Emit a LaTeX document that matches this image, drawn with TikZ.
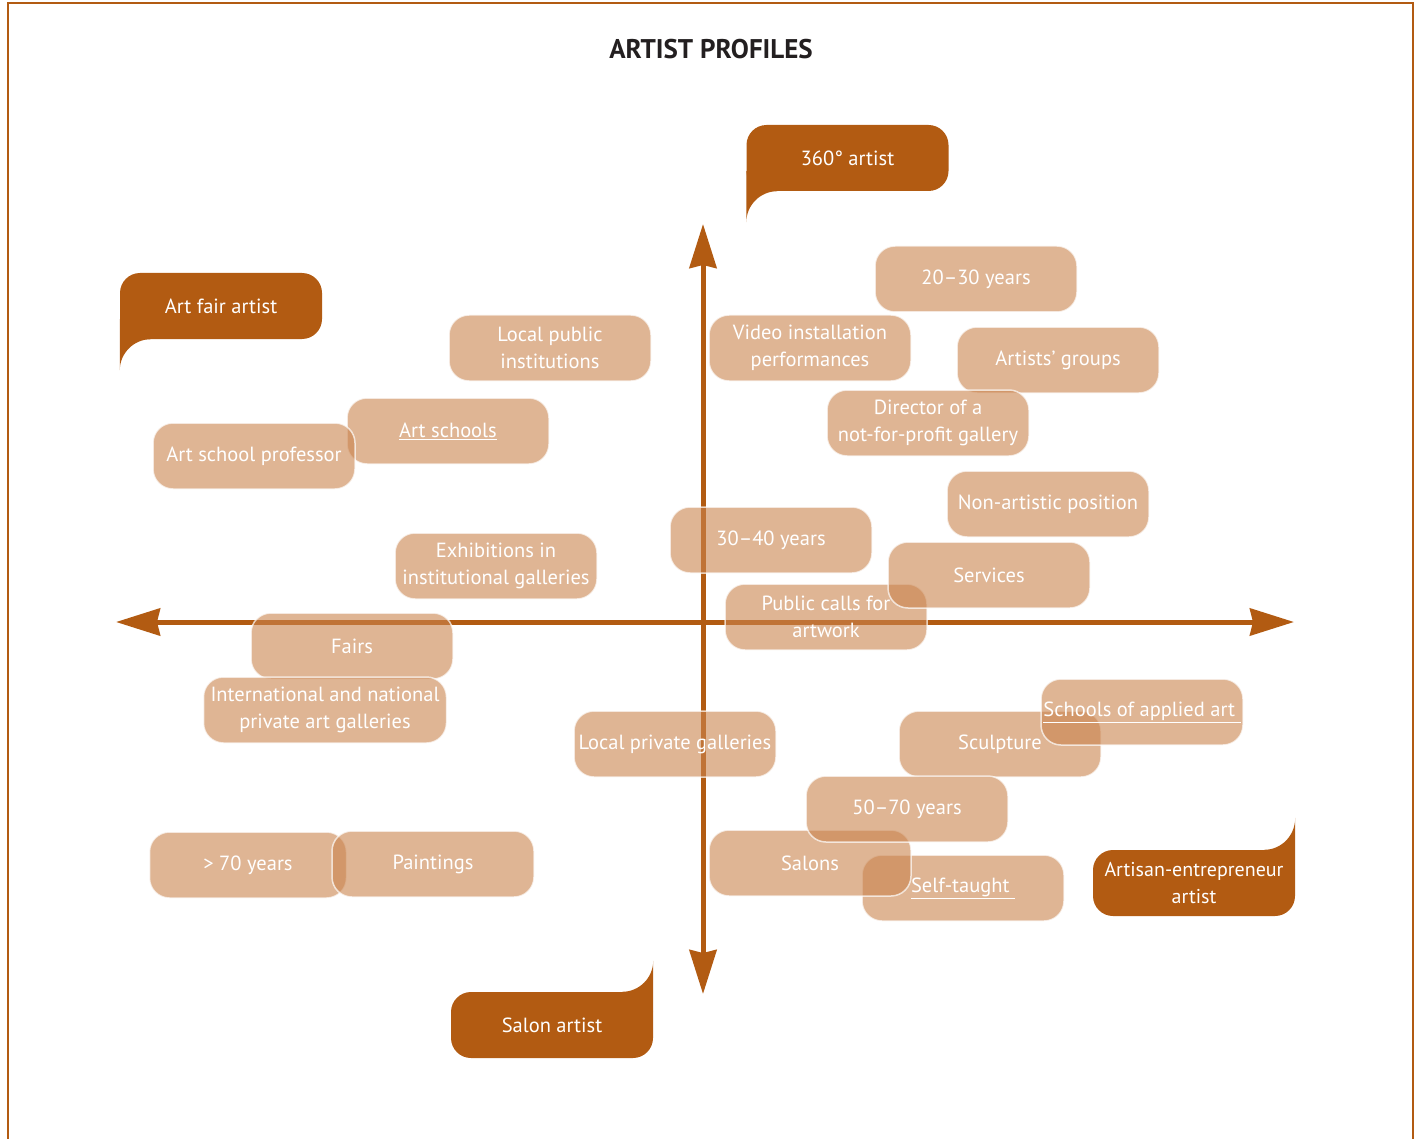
\documentclass[tikz,border=0pt]{standalone}
\usepackage{fontspec}
\setmainfont{PT Sans}
\usetikzlibrary{arrows.meta}
\pgfdeclarelayer{background}
\pgfsetlayers{background,main}
\definecolor{rust}{RGB}{178,91,18}
\definecolor{tanbox}{RGB}{202,132,78}
\definecolor{titlegray}{RGB}{35,31,32}
\begin{document}
\begin{tikzpicture}[x=1pt,y=-1pt,
  box/.style={rounded corners=20pt, minimum width=202pt, minimum height=66pt,
    fill=tanbox, fill opacity=0.6, draw=white, draw opacity=0.7, line width=1.5pt,
    text=white, text opacity=1, font=\fontsize{20.5}{27}\selectfont, align=center, inner sep=1pt},
  callout/.style={rounded corners=20pt, minimum width=202pt, minimum height=66pt,
    fill=rust, text=white, font=\fontsize{20.5}{27}\selectfont, align=center, inner sep=1pt},
  axis/.style={rust, line width=5pt, {Stealth[length=44pt,width=27pt,inset=3pt]}-{Stealth[length=44pt,width=27pt,inset=3pt]}},
  frame/.style={rust, line width=1.2pt}]
\useasboundingbox (0,0) rectangle (1423,1139);
\begin{pgfonlayer}{background}
\fill[white] (0,0) rectangle (1423,1139);
\draw[frame] (8,1139) -- (8,3) -- (1413,3) -- (1413,1139);
\end{pgfonlayer}

\node[font=\bfseries\fontsize{27}{32}\selectfont, text=titlegray] (title) at (711,49) {ARTIST PROFILES};

% axes
\coordinate (xl) at (116,622);
\coordinate (xr) at (1294,622);
\coordinate (yt) at (703,224);
\coordinate (yb) at (703,994);
\draw[axis] (xl) -- (xr);
\draw[axis] (yb) -- (yt);

% callouts
\node[callout] (c360) at (847.5,158) {360° artist};
\node[callout] (cfair) at (221,306) {Art fair artist};
\node[callout, font=\fontsize{20}{27}\selectfont] (cart) at (1194,883) {Artisan-entrepreneur\\artist};
\node[callout] (csalon) at (552,1025) {Salon artist};
\begin{pgfonlayer}{background}
\fill[rust] ([yshift=20pt]c360.south west) -- ([yshift=-31pt]c360.south west)
  .. controls ([yshift=-14pt]c360.south west) and ([xshift=14pt]c360.south west) .. ([xshift=31pt]c360.south west)
  -- ([xshift=31pt,yshift=20pt]c360.south west) -- cycle;
\fill[rust] ([yshift=20pt]cfair.south west) -- ([yshift=-31pt]cfair.south west)
  .. controls ([yshift=-14pt]cfair.south west) and ([xshift=14pt]cfair.south west) .. ([xshift=31pt]cfair.south west)
  -- ([xshift=31pt,yshift=20pt]cfair.south west) -- cycle;
\fill[rust] ([yshift=-20pt]cart.north east) -- ([yshift=32pt]cart.north east)
  .. controls ([yshift=14pt]cart.north east) and ([xshift=-14pt]cart.north east) .. ([xshift=-31pt]cart.north east)
  -- ([xshift=-31pt,yshift=-20pt]cart.north east) -- cycle;
\fill[rust] ([yshift=-20pt]csalon.north east) -- ([yshift=31pt]csalon.north east)
  .. controls ([yshift=14pt]csalon.north east) and ([xshift=-14pt]csalon.north east) .. ([xshift=-31pt]csalon.north east)
  -- ([xshift=-31pt,yshift=-20pt]csalon.north east) -- cycle;
\end{pgfonlayer}

% boxes
\node[box] (artschools) at (448,431) {\underline{Art schools}};
\node[box] (professor) at (254,456) {Art school professor};
\node[box] (localpublic) at (550,348) {Local public\\institutions};
\node[box] (exhib) at (496,566) {Exhibitions in\\institutional galleries};
\node[box] (fairs) at (352,646) {Fairs};
\node[box, minimum width=243pt] (intl) at (325,710) {International and national\\private art galleries};
\node[box, minimum width=197pt] (seventy) at (248,865) {> 70 years};
\node[box] (paintings) at (433,864) {Paintings};
\node[box] (localpriv) at (675,744) {Local private galleries};
\node[box] (video) at (810,348) {Video installation\\performances};
\node[box] (twenty) at (976,279) {20–30 years};
\node[box] (groups) at (1058,360) {Artists’ groups};
\node[box] (director) at (928,423) {Director of a\\not-for-profit gallery};
\node[box] (nonart) at (1048,504) {Non-artistic position};
\node[box] (thirty) at (771,540) {30–40 years};
\node[box] (calls) at (826,617) {Public calls for\\artwork};
\node[box] (services) at (989,575) {Services};
\node[box] (sculpture) at (1000,744) {Sculpture};
\node[box] (applied) at (1142,712) {\underline{Schools of applied art\ }};
\node[box] (selftaught) at (963,888) {\underline{Self-taught\ }};
\node[box] (salons) at (810,863) {Salons};
\node[box] (fifty) at (907,809) {50–70 years};
\end{tikzpicture}
\end{document}
